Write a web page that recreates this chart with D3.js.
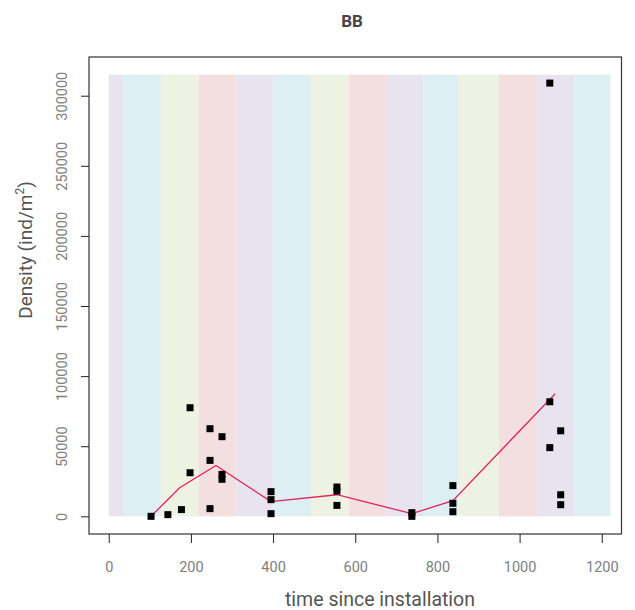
<!DOCTYPE html>
<html>
<head>
<meta charset="utf-8">
<script src="https://cdn.jsdelivr.net/npm/d3@7"></script>
<style>
  html, body { margin: 0; padding: 0; background: #fff; }
  svg { display: block; font-family: Roboto, "Noto Sans", sans-serif; }
</style>
</head>
<body>
<svg id="chart" width="635" height="610"></svg>
<script>
// Season bands (days since installation) and their fill colours
const bandEdges = [0, 36.5, 127, 219.7, 310.6, 401, 492, 584, 675.5, 766, 851, 949, 1042, 1133, 1221];
const bandColors = ["#e7e3ef", "#ddeff3", "#eef2e2", "#f4dfe0"];
const bandTop = 315000;

// Individual samples: days since installation, density (ind/m²)
const sampleDays = [103, 144, 177, 198, 198, 246.5, 246.5, 246.5, 275.7, 275.7, 275.7,
  395, 395, 395, 555.4, 555.4, 555.4, 737.8, 737.8, 837.6, 837.6, 837.6,
  1073.5, 1073.5, 1073.5, 1100, 1100, 1100];
const sampleDensity = [0, 1200, 4800, 77450, 31100, 62500, 39900, 5500, 56800, 29900, 26400,
  17600, 11900, 1900, 20900, 18000, 7800, 2600, 0, 21900, 9300, 3300,
  309000, 81700, 49000, 61000, 15400, 8300];

// Mean trend line
const trendDays = [103, 172.7, 261, 395, 555.4, 737.8, 837.6, 1086.6];
const trendDensity = [0, 20400, 36300, 10500, 15400, 1900, 11200, 87400];

const xTicks = [0, 200, 400, 600, 800, 1000, 1200];
const yTicks = [0, 50000, 100000, 150000, 200000, 250000, 300000];

const svg = d3.select("#chart");
const box = { left: 89, right: 621.5, top: 57, bottom: 534 };

const x = d3.scaleLinear().domain([-48, 1248]).range([box.left, box.right]);
const y = d3.scaleLinear().domain([-12600, 327600]).range([box.bottom, box.top]);

// Title
svg.append("text").attr("x", 352).attr("y", 27).attr("text-anchor", "middle")
  .attr("font-weight", "bold").attr("font-size", 17).attr("fill", "#444").text("BB");

// Season bands
const bands = d3.range(bandEdges.length - 1).map(i => ({ x0: bandEdges[i], x1: bandEdges[i + 1], c: bandColors[i % 4] }));
svg.append("g").selectAll("rect").data(bands).join("rect")
  .attr("x", d => x(d.x0)).attr("width", d => x(d.x1) - x(d.x0))
  .attr("y", y(bandTop)).attr("height", y(0) - y(bandTop))
  .attr("fill", d => d.c);

// Trend line
svg.append("path")
  .datum(d3.zip(trendDays, trendDensity))
  .attr("fill", "none").attr("stroke", "#e0245e").attr("stroke-width", 1.3)
  .attr("d", d3.line().x(d => x(d[0])).y(d => y(d[1])));

// Sample points (filled squares)
const s = 7;
svg.append("g").selectAll("rect").data(d3.zip(sampleDays, sampleDensity)).join("rect")
  .attr("x", d => x(d[0]) - s / 2).attr("y", d => y(d[1]) - s / 2)
  .attr("width", s).attr("height", s).attr("fill", "#000");

// Plot frame
svg.append("rect").attr("x", box.left).attr("y", box.top)
  .attr("width", box.right - box.left).attr("height", box.bottom - box.top)
  .attr("fill", "none").attr("stroke", "#333").attr("stroke-width", 1.2);

// X axis
const xAxis = svg.append("g").attr("transform", `translate(0,${box.bottom})`)
  .call(d3.axisBottom(x).tickValues(xTicks).tickSize(9).tickPadding(19).tickFormat(d3.format("d")));
xAxis.select(".domain").remove();
xAxis.selectAll("line").attr("stroke", "#222");
xAxis.selectAll("text").attr("font-size", 14.5).attr("fill", "#808080").attr("font-family", "Roboto, sans-serif");

// Y axis with rotated labels
const yAxis = svg.append("g").attr("transform", `translate(${box.left},0)`)
  .call(d3.axisLeft(y).tickValues(yTicks).tickSize(8).tickFormat(d3.format("d")));
yAxis.select(".domain").remove();
yAxis.selectAll("line").attr("stroke", "#222");
yAxis.selectAll("text")
  .attr("font-size", 14.5).attr("fill", "#808080").attr("font-family", "Roboto, sans-serif")
  .attr("x", null).attr("dy", null)
  .attr("text-anchor", "middle")
  .attr("transform", "translate(-27,0) rotate(-90)")
  .attr("dominant-baseline", "central");

// Axis titles
svg.append("text").attr("x", 380).attr("y", 606).attr("text-anchor", "middle")
  .attr("font-size", 19.5).attr("fill", "#555").text("time since installation");

const yl = svg.append("text").attr("transform", "translate(32,250) rotate(-90)")
  .attr("text-anchor", "middle").attr("font-size", 19).attr("fill", "#555");
yl.append("tspan").text("Density (ind/m");
yl.append("tspan").attr("font-size", 12).attr("dy", -8).text("2");
yl.append("tspan").attr("dy", 8).text(")");
</script>
</body>
</html>
